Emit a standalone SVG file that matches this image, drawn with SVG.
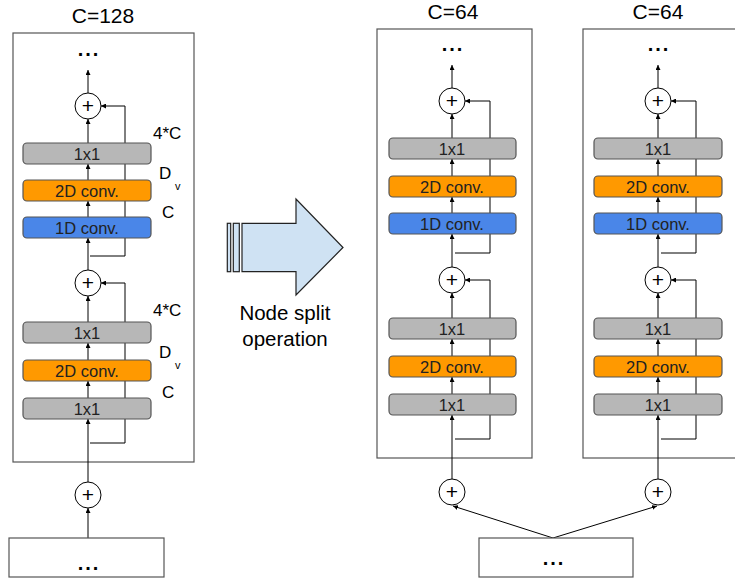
<svg xmlns="http://www.w3.org/2000/svg" width="735" height="582" viewBox="0 0 735 582">
<defs>
<marker id="ah" viewBox="0 0 10 10" refX="10" refY="5" markerWidth="5" markerHeight="5" markerUnits="userSpaceOnUse" orient="auto">
<path d="M0,0 L10,5 L0,10 z" fill="#000"/>
</marker>
<style>
text{font-family:"Liberation Sans",Arial,sans-serif;fill:#000}
.panel{fill:#fff;stroke:#555;stroke-width:1.2}
.g{fill:#b7b7b7;stroke:#555;stroke-width:1.2}
.o{fill:#ff9900;stroke:#555;stroke-width:1.2}
.b{fill:#4a86e8;stroke:#555;stroke-width:1.2}
.bt{font-size:16.5px;text-anchor:middle;fill:#222}
.lab{font-size:17px}
.sub{font-size:11px}
.ttl{font-size:21px;text-anchor:middle}
.dots{font-size:20px;font-weight:bold;text-anchor:middle;letter-spacing:2px}
.pc{fill:#fff;stroke:#000;stroke-width:1}
.pt{font-size:21px;text-anchor:middle}
.ln{fill:none;stroke:#000;stroke-width:1}
.arw{marker-end:url(#ah)}
</style>
</defs>

<g id="left-panel">
<rect class="panel" x="13" y="33" width="181" height="429"/>
<text class="ttl" x="103" y="23">C=128</text>
<text class="dots" x="89" y="56">...</text>
</g>
<g id="mid-panel">
<rect class="panel" x="377" y="29" width="155" height="429"/>
<text class="ttl" x="453" y="19">C=64</text>
<text class="dots" x="453" y="51">...</text>
</g>
<g id="right-panel">
<rect class="panel" x="583" y="29" width="160" height="429"/>
<text class="ttl" x="658" y="19">C=64</text>
<text class="dots" x="659" y="51">...</text>
</g>

<g id="connectors">
<line class="ln arw" x1="88" y1="93" x2="88" y2="70"/>
<line class="ln arw" x1="88" y1="143" x2="88" y2="119"/>
<line class="ln arw" x1="88" y1="180" x2="88" y2="164"/>
<line class="ln arw" x1="88" y1="217" x2="88" y2="201"/>
<line class="ln arw" x1="88" y1="270" x2="88" y2="238"/>
<polyline class="ln arw" points="90,256 125,256 125,106 101,106"/>
<line class="ln arw" x1="88" y1="322" x2="88" y2="296"/>
<line class="ln arw" x1="88" y1="360" x2="88" y2="343"/>
<line class="ln arw" x1="88" y1="398" x2="88" y2="381"/>
<polyline class="ln arw" points="90,443 125,443 125,283 101,283"/>
<line class="ln arw" x1="88" y1="482" x2="88" y2="419"/>
<line class="ln arw" x1="88" y1="538" x2="88" y2="508"/>
<line class="ln arw" x1="452" y1="88" x2="452" y2="65"/>
<line class="ln arw" x1="452" y1="138" x2="452" y2="114"/>
<line class="ln arw" x1="452" y1="176" x2="452" y2="159"/>
<line class="ln arw" x1="452" y1="213" x2="452" y2="197"/>
<line class="ln arw" x1="452" y1="267" x2="452" y2="234"/>
<polyline class="ln arw" points="455,253 490,253 490,101 465,101"/>
<line class="ln arw" x1="452" y1="318" x2="452" y2="293"/>
<line class="ln arw" x1="452" y1="356" x2="452" y2="339"/>
<line class="ln arw" x1="452" y1="394" x2="452" y2="377"/>
<polyline class="ln arw" points="455,439 490,439 490,280 465,280"/>
<line class="ln arw" x1="452" y1="479" x2="452" y2="415"/>
<line class="ln arw" x1="658" y1="88" x2="658" y2="65"/>
<line class="ln arw" x1="658" y1="138" x2="658" y2="114"/>
<line class="ln arw" x1="658" y1="176" x2="658" y2="159"/>
<line class="ln arw" x1="658" y1="213" x2="658" y2="197"/>
<line class="ln arw" x1="658" y1="267" x2="658" y2="234"/>
<polyline class="ln arw" points="661,253 696,253 696,101 671,101"/>
<line class="ln arw" x1="658" y1="318" x2="658" y2="293"/>
<line class="ln arw" x1="658" y1="356" x2="658" y2="339"/>
<line class="ln arw" x1="658" y1="394" x2="658" y2="377"/>
<polyline class="ln arw" points="661,439 696,439 696,280 671,280"/>
<line class="ln arw" x1="658" y1="479" x2="658" y2="415"/>
<line class="ln arw" x1="553" y1="538" x2="453" y2="506"/>
<line class="ln arw" x1="553" y1="538" x2="657" y2="506"/>
</g>

<g id="L-plus1"><circle class="pc" cx="88" cy="106" r="13"/><text class="pt" x="88" y="113">+</text></g>
<g id="L-1x1a"><rect class="g" x="23" y="143" width="128" height="21" rx="4"/><text class="bt" x="87" y="159.5">1x1</text></g>
<g id="L-2da"><rect class="o" x="23" y="180" width="128" height="21" rx="4"/><text class="bt" x="87" y="196.5">2D conv.</text></g>
<g id="L-1d"><rect class="b" x="23" y="217" width="128" height="21" rx="4"/><text class="bt" x="87" y="233.5">1D conv.</text></g>
<g id="L-plus2"><circle class="pc" cx="88" cy="283" r="13"/><text class="pt" x="88" y="290">+</text></g>
<g id="L-1x1b"><rect class="g" x="23" y="322" width="128" height="21" rx="4"/><text class="bt" x="87" y="338.5">1x1</text></g>
<g id="L-2db"><rect class="o" x="23" y="360" width="128" height="21" rx="4"/><text class="bt" x="87" y="376.5">2D conv.</text></g>
<g id="L-1x1c"><rect class="g" x="23" y="398" width="128" height="21" rx="4"/><text class="bt" x="87" y="414.5">1x1</text></g>
<g id="L-plus3"><circle class="pc" cx="88" cy="495" r="13"/><text class="pt" x="88" y="502">+</text></g>
<g id="L-bottom"><rect class="panel" x="9" y="538" width="155" height="39"/><text class="dots" x="89" y="570">...</text></g>
<g id="L-labels">
<text class="lab" x="153" y="139">4*C</text>
<text class="lab" x="159" y="179">D</text><text class="sub" x="175" y="190">v</text>
<text class="lab" x="162" y="218">C</text>
<text class="lab" x="153" y="316">4*C</text>
<text class="lab" x="159" y="358">D</text><text class="sub" x="175" y="369">v</text>
<text class="lab" x="162" y="398">C</text>
</g>

<g id="M-plus1"><circle class="pc" cx="452" cy="101" r="13"/><text class="pt" x="452" y="108">+</text></g>
<g id="M-1x1a"><rect class="g" x="389" y="138" width="127" height="21" rx="4"/><text class="bt" x="452" y="154.5">1x1</text></g>
<g id="M-2da"><rect class="o" x="389" y="176" width="127" height="21" rx="4"/><text class="bt" x="452" y="192.5">2D conv.</text></g>
<g id="M-1d"><rect class="b" x="389" y="213" width="127" height="21" rx="4"/><text class="bt" x="452" y="229.5">1D conv.</text></g>
<g id="M-plus2"><circle class="pc" cx="452" cy="280" r="13"/><text class="pt" x="452" y="287">+</text></g>
<g id="M-1x1b"><rect class="g" x="389" y="318" width="127" height="21" rx="4"/><text class="bt" x="452" y="334.5">1x1</text></g>
<g id="M-2db"><rect class="o" x="389" y="356" width="127" height="21" rx="4"/><text class="bt" x="452" y="372.5">2D conv.</text></g>
<g id="M-1x1c"><rect class="g" x="389" y="394" width="127" height="21" rx="4"/><text class="bt" x="452" y="410.5">1x1</text></g>
<g id="M-plus3"><circle class="pc" cx="452" cy="492" r="13"/><text class="pt" x="452" y="499">+</text></g>

<g id="R-plus1"><circle class="pc" cx="658" cy="101" r="13"/><text class="pt" x="658" y="108">+</text></g>
<g id="R-1x1a"><rect class="g" x="594" y="138" width="128" height="21" rx="4"/><text class="bt" x="658" y="154.5">1x1</text></g>
<g id="R-2da"><rect class="o" x="594" y="176" width="128" height="21" rx="4"/><text class="bt" x="658" y="192.5">2D conv.</text></g>
<g id="R-1d"><rect class="b" x="594" y="213" width="128" height="21" rx="4"/><text class="bt" x="658" y="229.5">1D conv.</text></g>
<g id="R-plus2"><circle class="pc" cx="658" cy="280" r="13"/><text class="pt" x="658" y="287">+</text></g>
<g id="R-1x1b"><rect class="g" x="594" y="318" width="128" height="21" rx="4"/><text class="bt" x="658" y="334.5">1x1</text></g>
<g id="R-2db"><rect class="o" x="594" y="356" width="128" height="21" rx="4"/><text class="bt" x="658" y="372.5">2D conv.</text></g>
<g id="R-1x1c"><rect class="g" x="594" y="394" width="128" height="21" rx="4"/><text class="bt" x="658" y="410.5">1x1</text></g>
<g id="R-plus3"><circle class="pc" cx="658" cy="492" r="13"/><text class="pt" x="658" y="499">+</text></g>

<g id="split-bottom"><rect class="panel" x="479" y="538" width="154" height="39"/><text class="dots" x="554" y="565">...</text></g>

<g id="split-arrow">
<rect x="227.3" y="223.3" width="3.4" height="48.4" fill="#cfe2f3" stroke="#222" stroke-width="1.2"/>
<rect x="233.3" y="223.3" width="6" height="48.4" fill="#cfe2f3" stroke="#222" stroke-width="1.2"/>
<polygon points="242,223.3 296,223.3 296,199 343,247.5 296,295 296,271.7 242,271.7" fill="#cfe2f3" stroke="#222" stroke-width="1.2"/>
<text x="285" y="320" font-size="20.5" text-anchor="middle">Node split</text>
<text x="285" y="346" font-size="20.5" text-anchor="middle">operation</text>
</g>
</svg>
